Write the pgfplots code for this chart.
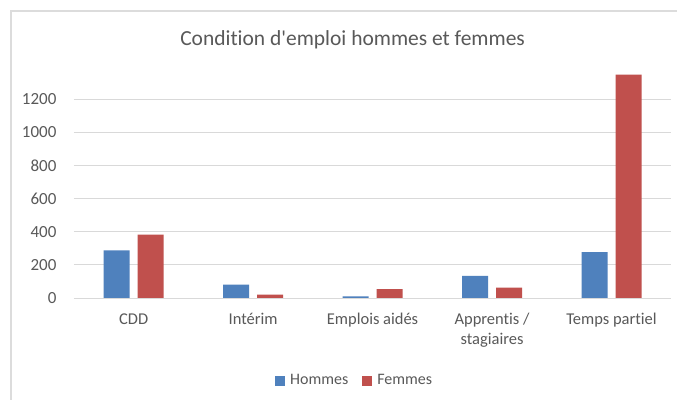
\documentclass[border=0pt]{standalone}
\usepackage{pgfplots}
\pgfplotsset{compat=1.18}
\usepackage{fontspec}
\setmainfont{Carlito}[RawFeature={-liga;-clig;-dlig}]
\definecolor{cblue}{HTML}{4F81BD}
\definecolor{cred}{HTML}{C0504D}
\definecolor{cgrid}{HTML}{D9D9D9}
\definecolor{ctext}{HTML}{595959}
\definecolor{cframe}{HTML}{DCDCDC}
\begin{document}
\begin{tikzpicture}[x=1bp,y=1bp]
\fill[white] (0,0) rectangle (678,400);
\draw[cframe,line width=1.5bp] (11.2,0) -- (11.2,389.2) -- (678,389.2);
\node[text=ctext,font=\fontsize{21.5bp}{25bp}\selectfont] at (353,360) {Condition d\textquotesingle emploi hommes et femmes};
\begin{axis}[
  at={(74bp,101.7bp)}, anchor=south west,
  scale only axis, width=598bp, height=232.3bp,
  xmin=-0.5, xmax=4.5, ymin=0, ymax=1400,
  ytick={0,200,400,600,800,1000,1200},
  xtick={0,1,2,3,4},
  xticklabels={CDD,Intérim,Emplois aidés,Apprentis /\\stagiaires,Temps partiel},
  xticklabel style={align=center, text=ctext, font=\fontsize{16.5bp}{20bp}\selectfont, yshift=-12bp},
  yticklabel style={text=ctext, font=\fontsize{17bp}{19bp}\selectfont, xshift=-14bp},
  /pgf/number format/assume math mode=true,
  /pgf/number format/1000 sep={},
  ymajorgrids, grid style={cgrid, line width=0.8bp},
  axis line style={draw=none},
  major tick length=0pt,
  ybar, bar width=26bp,
  legend style={at={(0.47,-0.356)}, anchor=center, draw=none, legend columns=-1,
    font=\fontsize{16bp}{19bp}\selectfont, text=ctext,
    /tikz/every even column/.append style={column sep=12bp}},
  legend image code/.code={\fill[#1] (0bp,-5bp) rectangle (10bp,5bp); \path (13bp,0bp);},
]
\draw[cgrid, line width=0.8bp] (rel axis cs:0,0) -- (rel axis cs:1,0);
\addplot[fill=cblue, draw=none, bar shift=-17bp] coordinates {(0,287) (1,80) (2,10) (3,133) (4,277)};
\addplot[fill=cred, draw=none, bar shift=17bp] coordinates {(0,382) (1,20) (2,54) (3,62) (4,1347)};
\legend{Hommes,Femmes}
\end{axis}
\end{tikzpicture}
\end{document}
